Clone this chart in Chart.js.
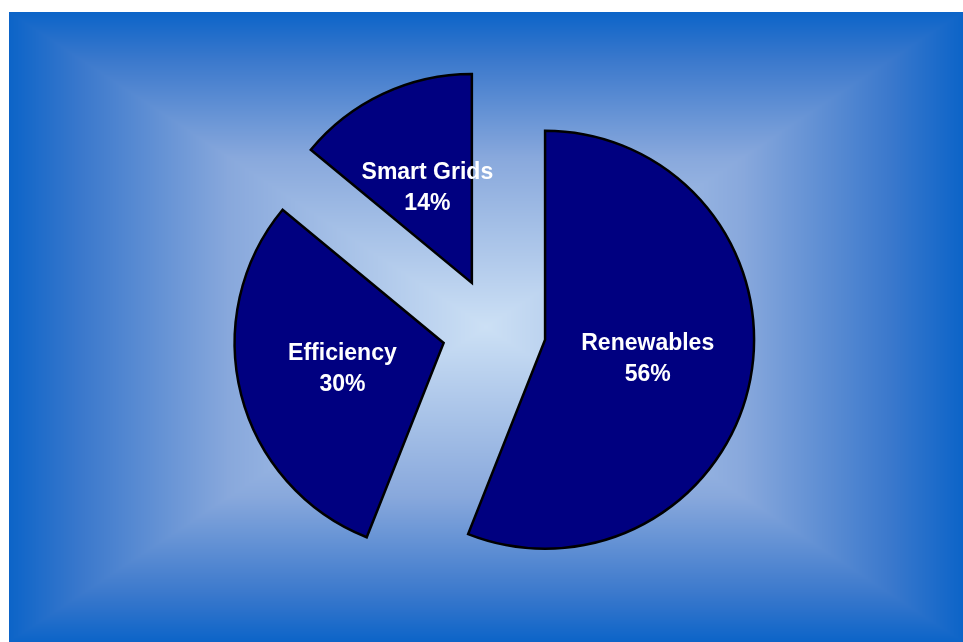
<!DOCTYPE html>
<html>
<head>
<meta charset="utf-8">
<title>Energy Investment Mix</title>
<script src="https://cdn.jsdelivr.net/npm/chart.js@4/dist/chart.umd.min.js"></script>
<style>
  html, body { margin: 0; padding: 0; background: #ffffff; }
  #wrap { position: relative; width: 963px; height: 642px; overflow: hidden; }
  canvas { display: block; }
</style>
</head>
<body>
<div id="wrap"><canvas id="pie" width="963" height="642"></canvas></div>
<script>
// Share of the programme by area (percent)
const categories = ['Renewables', 'Efficiency', 'Smart Grids'];
const shares = [56, 30, 14];

// Styling constants
const SLICE_FILL = '#000080';
const EXPLODE = 52;          // px each slice is pulled out from the centre
const PIE_RADIUS = 209;
const LABEL_FONT = 'bold 23px "Liberation Sans", Arial, sans-serif';
const LABEL_LINE = 31;

// Colour stops of the panel gradient, from centre (0) to border (1)
const PANEL_STOPS = [
  [0.00, [204, 224, 245]],
  [0.54, [136, 168, 220]],
  [0.85, [58, 120, 204]],
  [1.00, [12, 100, 200]]
];

function panelColor(t) {
  for (let s = 1; s < PANEL_STOPS.length; s++) {
    const [t1, c1] = PANEL_STOPS[s];
    if (t <= t1) {
      const [t0, c0] = PANEL_STOPS[s - 1];
      const f = (t - t0) / (t1 - t0);
      return [c0[0] + (c1[0] - c0[0]) * f, c0[1] + (c1[1] - c0[1]) * f, c0[2] + (c1[2] - c0[2]) * f];
    }
  }
  return PANEL_STOPS[PANEL_STOPS.length - 1][1];
}

// Rectangular "from centre" gradient panel behind the pie
const panelBackground = {
  id: 'panelBackground',
  beforeDraw(chart) {
    const ctx = chart.ctx;
    const x0 = 9, y0 = 12, x1 = chart.width, y1 = chart.height;
    const w = x1 - x0, h = y1 - y0;
    const cx = x0 + w / 2, cy = y0 + h / 2;
    const hw = w / 2, hh = h / 2;
    const img = ctx.createImageData(w, h);
    const d = img.data;
    for (let j = 0; j < h; j++) {
      const ty = Math.abs(y0 + j + 0.5 - cy) / hh;
      for (let i = 0; i < w; i++) {
        const tx = Math.abs(x0 + i + 0.5 - cx) / hw;
        const c = panelColor(Math.min(1, Math.max(tx, ty)));
        const k = (j * w + i) * 4;
        d[k] = c[0];
        d[k + 1] = c[1];
        d[k + 2] = c[2];
        d[k + 3] = 255;
      }
    }
    ctx.putImageData(img, x0, y0);
  }
};

// Draw each arc pulled outward along its bisector, then the white labels
const explodedSlices = {
  id: 'explodedSlices',
  beforeDatasetDraw(chart, args) {
    const ctx = chart.ctx;
    args.meta.data.forEach(arc => {
      const mid = (arc.startAngle + arc.endAngle) / 2;
      ctx.save();
      ctx.translate(Math.cos(mid) * EXPLODE, Math.sin(mid) * EXPLODE);
      arc.draw(ctx);
      ctx.restore();
    });
    return false;
  },
  afterDatasetsDraw(chart) {
    const ctx = chart.ctx;
    const meta = chart.getDatasetMeta(0);
    const values = chart.data.datasets[0].data;
    ctx.save();
    ctx.font = LABEL_FONT;
    ctx.fillStyle = '#ffffff';
    ctx.textAlign = 'center';
    ctx.textBaseline = 'middle';
    meta.data.forEach((arc, i) => {
      const mid = (arc.startAngle + arc.endAngle) / 2;
      const dist = EXPLODE + arc.outerRadius * 0.5;
      const x = arc.x + Math.cos(mid) * dist;
      const y = arc.y + Math.sin(mid) * dist;
      ctx.fillText(chart.data.labels[i], x, y - LABEL_LINE / 2);
      ctx.fillText(values[i] + '%', x, y + LABEL_LINE / 2);
    });
    ctx.restore();
  }
};

new Chart(document.getElementById('pie'), {
  type: 'pie',
  data: {
    labels: categories,
    datasets: [{
      data: shares,
      backgroundColor: SLICE_FILL,
      borderColor: '#000000',
      borderWidth: 2.5,
      borderJoinStyle: 'miter'
    }]
  },
  options: {
    responsive: false,
    animation: false,
    radius: PIE_RADIUS,
    layout: { padding: { left: 25, top: 18, right: 0, bottom: 0 } },
    plugins: {
      legend: { display: false },
      tooltip: { enabled: false }
    }
  },
  plugins: [panelBackground, explodedSlices]
});
</script>
</body>
</html>
